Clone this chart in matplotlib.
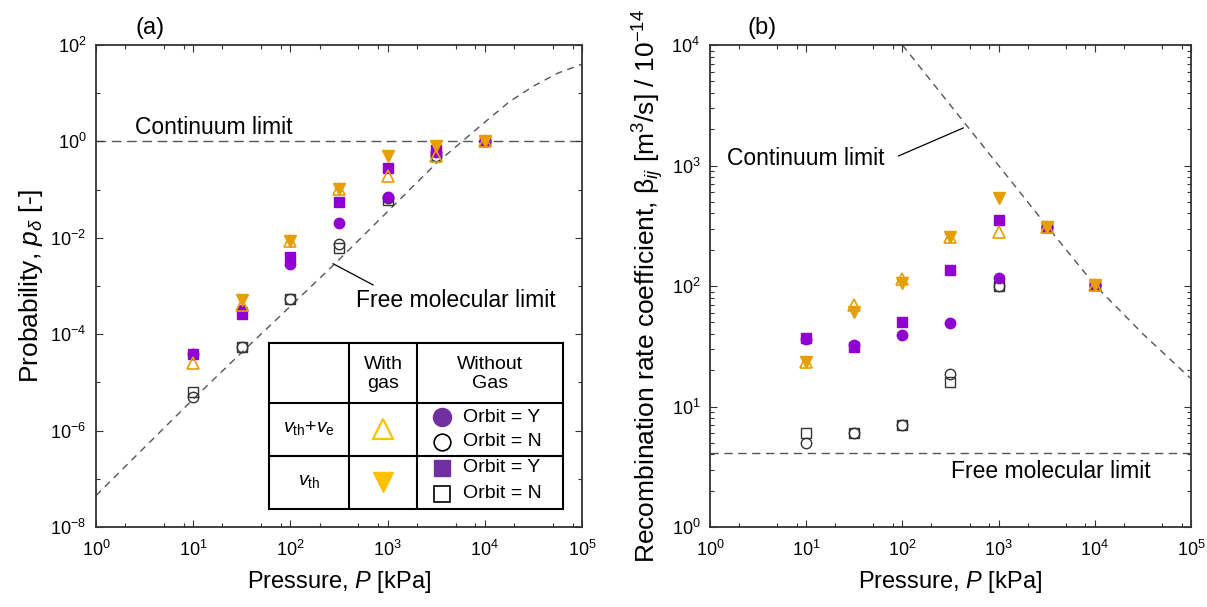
import numpy as np
import matplotlib.pyplot as plt
from matplotlib.ticker import FixedLocator, FuncFormatter, LogLocator, NullFormatter

plt.rcParams['font.family'] = ['Liberation Sans', 'DejaVu Sans']
plt.rcParams['mathtext.fontset'] = 'custom'
plt.rcParams['mathtext.rm'] = 'Liberation Sans'
plt.rcParams['mathtext.it'] = 'Liberation Sans:italic'
plt.rcParams['mathtext.bf'] = 'Liberation Sans:bold'

########  data  ########

pressure = [10, 31.6, 100, 316, 1000, 3162, 10000]

# (a) probability p_delta
a_vthve_gas = [2.5e-5, 4.0e-4, 8.5e-3, 0.105, 0.195, 0.5, 1.0]
a_vthve_orbY = [3.8e-5, 3.2e-4, 2.9e-3, 0.020, 0.071, 0.6, 1.0]
a_vthve_orbN = [5.0e-6, 5.5e-5, 5.3e-4, 7.3e-3, 0.066, 0.5, 1.0]
a_vth_gas = [np.nan, 5.1e-4, 8.5e-3, 0.105, 0.49, 0.8, 1.0]
a_vth_orbY = [3.8e-5, 2.65e-4, 4.0e-3, 0.056, 0.28, 0.65, 1.0]
a_vth_orbN = [6.4e-6, 5.5e-5, 5.3e-4, 6.2e-3, 0.062, 0.5, 1.0]

# (b) recombination rate coefficient / 1e-14
b_vthve_gas = [23.5, 69, 114, 254, 280, 310, 102]
b_vthve_orbY = [36, 32.5, 39, 49.5, 117, 310, 102]
b_vthve_orbN = [5.0, 6.0, 7.0, 18.6, 100, 310, 102]
b_vth_gas = [23.5, 61, 105, 254, 535, 310, 102]
b_vth_orbY = [37, 31, 50, 136, 352, 310, 102]
b_vth_orbN = [6.0, 6.0, 7.0, 16, 100, 310, 102]

# limits
a_cont = 1.0
a_fm_P = [1, 3.16, 10, 31.6, 100, 316, 1000, 3162, 10000, 17783, 31623, 56234, 100000]
a_fm = [4.5e-8, 4.5e-7, 4.5e-6, 4.2e-5, 3.8e-4, 3.5e-3, 0.035, 0.35, 2.5, 6.6, 14, 26, 40]
b_fm = 4.1
b_cont_P = [100, 316, 1000, 3162, 10000, 31623, 100000]
b_cont = [10000, 3160, 1000, 316, 102, 40, 17]

purple = '#9000D0'
orange = '#E69F00'
dark = '#333333'
gray = '#555555'

fig = plt.figure(figsize=(12.07, 6.07), dpi=100)
ax1 = fig.add_axes([96/1207, 1-527/607, 486/1207, 482/607])
ax2 = fig.add_axes([710/1207, 1-527/607, 481/1207, 482/607])


def plot_set(ax, ys):
    vg, vy, vn, tg, ty, tn = ys
    ax.plot(pressure, vn, 'o', ms=7.5, mfc='none', mec=dark, mew=1.0, ls='none', zorder=3)
    ax.plot(pressure, tn, 's', ms=7.5, mfc='none', mec=dark, mew=1.0, ls='none', zorder=3)
    ax.plot(pressure, vy, 'o', ms=7.5, color=purple, ls='none', zorder=4)
    ax.plot(pressure, ty, 's', ms=7.5, color=purple, ls='none', zorder=4)
    ax.plot(pressure, vg, '^', ms=9, mfc='none', mec=orange, mew=1.2, ls='none', zorder=5)
    ax.plot(pressure, tg, 'v', ms=9, color=orange, ls='none', zorder=6)


def dec_fmt(v, pos):
    return r'$\mathdefault{10^{%d}}$' % int(round(np.log10(v)))


for ax in (ax1, ax2):
    ax.set_xscale('log')
    ax.set_yscale('log')
    ax.set_xlim(1, 1e5)
    ax.xaxis.set_major_locator(LogLocator(base=10, numticks=10))
    ax.xaxis.set_minor_locator(LogLocator(base=10, subs=(2, 5, 8), numticks=10))
    ax.xaxis.set_minor_formatter(NullFormatter())
    ax.xaxis.set_major_formatter(FuncFormatter(dec_fmt))
    ax.yaxis.set_major_formatter(FuncFormatter(dec_fmt))
    ax.tick_params(which='both', direction='in', top=True, right=True,
                   labelsize=13, color=dark, width=0.8, pad=7)
    ax.tick_params(axis='x', which='major', pad=9)
    ax.tick_params(which='major', length=5)
    ax.tick_params(which='minor', length=3)
    for s in ax.spines.values():
        s.set_linewidth(1.3)
        s.set_color(dark)
    ax.set_xlabel('Pressure, $P$ [kPa]', fontsize=17, labelpad=7)

########  (a)  ########

ax1.set_ylim(1e-8, 1e2)
ax1.yaxis.set_major_locator(FixedLocator([1e-8, 1e-6, 1e-4, 1e-2, 1e0, 1e2]))
ax1.yaxis.set_minor_locator(FixedLocator([1e-7, 1e-5, 1e-3, 1e-1, 1e1]))
ax1.yaxis.set_minor_formatter(NullFormatter())
ax1.axhline(a_cont, color=gray, lw=1.0, dashes=(7, 4), zorder=1)
ax1.plot(a_fm_P, a_fm, color=gray, lw=1.0, dashes=(5, 4), zorder=1)
plot_set(ax1, [a_vthve_gas, a_vthve_orbY, a_vthve_orbN, a_vth_gas, a_vth_orbY, a_vth_orbN])
ax1.set_ylabel(r'Probability, $p_{\delta}$ [-]', fontsize=19, labelpad=4)
ax1.text(2.5, 1.9, 'Continuum limit', fontsize=16.5, va='center', ha='left')
ax1.text(470, 5.0e-4, 'Free molecular limit', fontsize=16.5, va='center', ha='left')
ax1.plot([275, 710], [2.9e-3, 1.05e-3], color='black', lw=0.9)
fig.text(150/1207, 1-28/607, '(a)', fontsize=17, ha='center', va='center')

########  (b)  ########

ax2.set_ylim(1, 1e4)
ax2.yaxis.set_major_locator(LogLocator(base=10, numticks=10))
ax2.yaxis.set_minor_locator(LogLocator(base=10, subs=np.arange(2, 10), numticks=10))
ax2.yaxis.set_minor_formatter(NullFormatter())
ax2.axhline(b_fm, color=gray, lw=1.0, dashes=(6, 4), zorder=1)
ax2.plot(b_cont_P, b_cont, color=gray, lw=1.0, dashes=(5, 4), zorder=1)
plot_set(ax2, [b_vthve_gas, b_vthve_orbY, b_vthve_orbN, b_vth_gas, b_vth_orbY, b_vth_orbN])
ax2.set_ylabel(r'Recombination rate coefficient, $\mathrm{\beta}_{ij}$ [m$^3$/s] / 10$^{-14}$',
               fontsize=19, labelpad=4)
ax2.text(1.5, 1150, 'Continuum limit', fontsize=16.5, va='center', ha='left')
ax2.plot([91, 430], [1200, 2050], color='black', lw=0.9)
ax2.text(320, 2.9, 'Free molecular limit', fontsize=16.5, va='center', ha='left')
fig.text(762/1207, 1-28/607, '(b)', fontsize=17, ha='center', va='center')

########  legend table  ########

tab = fig.add_axes([269/1207, 1-509/607, 294/1207, 166/607])
tab.set_xlim(0, 294)
tab.set_ylim(166, 0)
tab.set_xticks([])
tab.set_yticks([])
for s in tab.spines.values():
    s.set_linewidth(1.5)
    s.set_color('black')
tab.plot([80, 80], [0, 166], color='black', lw=1.5)
tab.plot([148, 148], [0, 166], color='black', lw=1.5)
tab.plot([0, 294], [60, 60], color='black', lw=1.5)
tab.plot([0, 294], [113, 113], color='black', lw=1.5)
tab.text(114, 31, 'With\ngas', fontsize=14, ha='center', va='center', linespacing=1.1)
tab.text(221, 31, 'Without\nGas', fontsize=14, ha='center', va='center', linespacing=1.1)
tab.text(40, 85, r'$v_{\rm th}$+$v_{\rm e}$', fontsize=14, ha='center', va='center')
tab.text(40, 138, r'$v_{\rm th}$', fontsize=14, ha='center', va='center')
tab.plot(114, 86, '^', ms=15, mfc='none', mec='#FFC000', mew=1.6)
tab.plot(114, 139, 'v', ms=15, color='#FFC000')
tab.plot(173, 74, 'o', ms=13, color='#7030A0')
tab.plot(173, 99, 'o', ms=12, mfc='none', mec='black', mew=1.2)
tab.plot(173, 125, 's', ms=11, color='#7030A0')
tab.plot(173, 151, 's', ms=11, mfc='none', mec='black', mew=1.2)
for yy, lab in [(74, 'Orbit = Y'), (99, 'Orbit = N'), (125, 'Orbit = Y'), (151, 'Orbit = N')]:
    tab.text(194, yy, lab, fontsize=14, ha='left', va='center')

plt.savefig('out.png', dpi=100)
plt.close()
